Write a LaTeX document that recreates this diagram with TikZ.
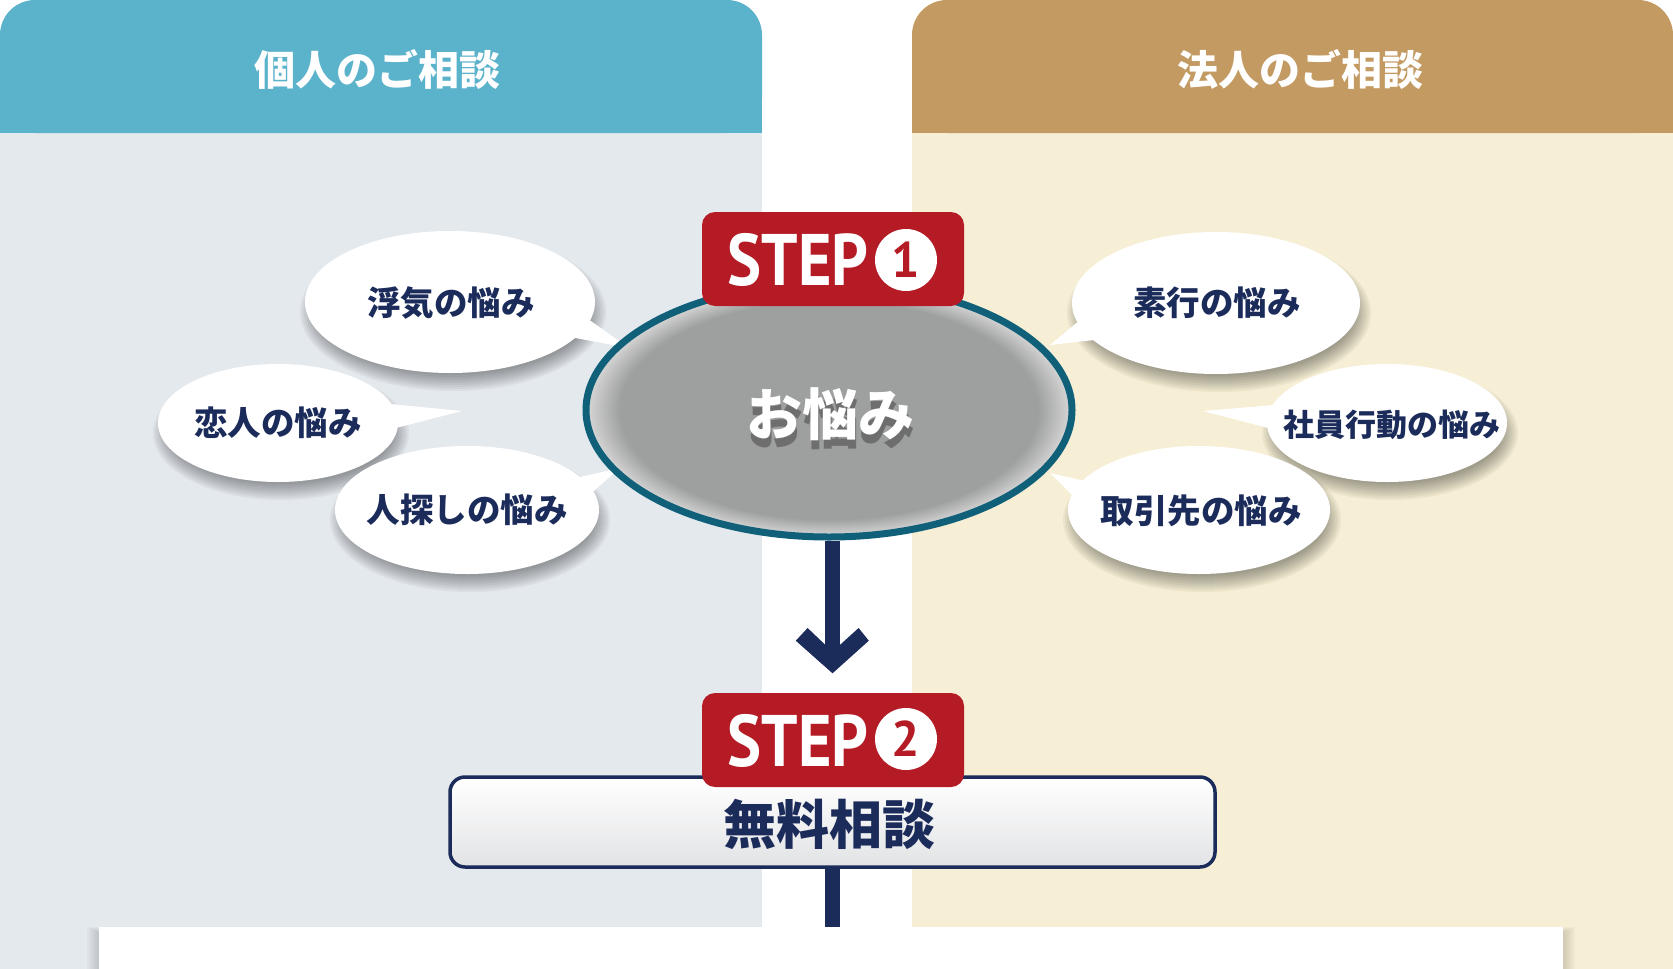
\documentclass[tikz,border=0pt]{standalone}
\usepackage{fontspec}
\newfontfamily\jp{Noto Sans CJK JP}
\newfontfamily\stepf{PT Sans}
\usetikzlibrary{shapes.geometric,calc}
\definecolor{headblue}{HTML}{5BB2CB}
\definecolor{bodyblue}{HTML}{E4E9EE}
\definecolor{headgold}{HTML}{C29A62}
\definecolor{bodygold}{HTML}{F6EFD5}
\definecolor{ringteal}{HTML}{10607A}
\definecolor{ellgray}{HTML}{9E9F9F}
\definecolor{ellglow}{HTML}{D8D8D8}
\definecolor{stepred}{HTML}{B41B24}
\definecolor{navy}{HTML}{1B2B5A}
\definecolor{boxgray}{HTML}{E2E3E5}
\pgfdeclareradialshading{glow}{\pgfpoint{0bp}{0bp}}{color(0bp)=(ellgray); color(21.5bp)=(ellgray); color(25bp)=(ellglow); color(50bp)=(ellglow)}
\newcommand\bubshadow[4]{%
  \foreach \k in {0,...,8}{\fill[black,opacity=0.045] (#1+3,#2+10) ellipse [x radius={#3-8+2*\k}, y radius={#4-8+2*\k}];}}
\begin{document}
\begin{tikzpicture}[x=1pt,y=-1pt,
  headtext/.style={text=white, font={\jp\bfseries\fontsize{41}{41}\selectfont}, inner sep=0},
  bubble/.style={ellipse, fill=white, inner sep=0},
  bubtext/.style={inner sep=0, text=navy, font={\jp\bfseries\fontsize{33.5}{33.5}\selectfont}},
  mainell/.style={ellipse, inner sep=0, draw=ringteal, line width=7pt, shade, shading=glow, minimum width=486, minimum height=254},
  stepbadge/.style={rectangle, rounded corners=13, fill=stepred, minimum width=262, minimum height=94, inner sep=0},
  steptext/.style={text=white, inner sep=0, anchor=base, font={\stepf\bfseries\fontsize{73}{73}\selectfont}},
  stepnum/.style={circle, fill=white, minimum size=62, inner sep=0, text=stepred, font={\stepf\bfseries\fontsize{50}{50}\selectfont}},
  flow/.style={draw=navy, line width=15pt},
  consult/.style={rectangle, rounded corners=15, draw=navy, line width=3.5pt, top color=white, middle color=white, bottom color=boxgray, minimum width=765, minimum height=90, inner sep=0}]
\useasboundingbox (0,0) rectangle (1673,969);
\fill[white] (0,0) rectangle (1673,969);
% panels
\fill[bodyblue] (0,133) rectangle (762,969);
\fill[bodygold] (912,133) rectangle (1673,969);
\fill[headblue, rounded corners=35] (0,0) rectangle (762,133);
\fill[headblue] (0,60) rectangle (762,133);
\fill[headgold, rounded corners=35] (912,0) rectangle (1673,133);
\fill[headgold] (912,60) rectangle (1673,133);
\node[headtext] (h1) at (377,69) {個人のご相談};
\node[headtext] (h2) at (1300,69) {法人のご相談};
% bottom white box with shadow
\foreach \k in {0,...,6}{\fill[black,opacity=0.025] (99-2*\k,933-\k) rectangle (1563+2*\k,975);}
\node[rectangle, fill=white, minimum width=1464, minimum height=60, inner sep=0, anchor=north west] (wb) at (99,927) {};
% left bubbles
\bubshadow{450}{302}{145}{71}
\node[bubble, minimum width=290, minimum height=142] (b1) at (450,302) {};
\fill[white] (570,337) -- (629,348) -- (588,319) -- cycle;
\node[bubtext] (b1t) at (451,303) {浮気の悩み};
\bubshadow{278}{423}{120}{59}
\node[bubble, minimum width=240, minimum height=118] (b2) at (278,423) {};
\fill[white] (390,404) -- (462,411) -- (392,429) -- cycle;
\node[bubtext] (b2t) at (278,423) {恋人の悩み};
\bubshadow{467}{510}{132}{64}
\node[bubble, minimum width=264, minimum height=128] (b3) at (467,510) {};
\fill[white] (575,478) -- (620,468) -- (588,496) -- cycle;
\node[bubtext] (b3t) at (467,510) {人探しの悩み};
% right bubbles
\bubshadow{1216}{303}{144}{71}
\node[bubble, minimum width=288, minimum height=142] (b4) at (1216,303) {};
\fill[white] (1080,320) -- (1050,345) -- (1094,340) -- cycle;
\node[bubtext] (b4t) at (1217,303) {素行の悩み};
\bubshadow{1387}{423}{120}{59}
\node[bubble, minimum width=240, minimum height=118] (b5) at (1387,423) {};
\fill[white] (1274,405) -- (1203,411) -- (1272,429) -- cycle;
\node[bubtext, font={\jp\bfseries\fontsize{31}{31}\selectfont}] (b5t) at (1392,425) {社員行動の悩み};
\bubshadow{1199}{510}{131}{64}
\node[bubble, minimum width=262, minimum height=128] (b6) at (1199,510) {};
\fill[white] (1085,481) -- (1050,473) -- (1074,497) -- cycle;
\node[bubtext] (b6t) at (1201,511) {取引先の悩み};
% central ellipse
\node[mainell] (main) at (829,410) {};
\node[text=black, opacity=0.3, inner sep=0, font={\jp\bfseries\fontsize{56}{56}\selectfont}] (worryshadow) at (831,423) {お悩み};
\node[text=white, inner sep=0, font={\jp\bfseries\fontsize{56}{56}\selectfont}] (worry) at (830,414) {お悩み};
% STEP 1
\node[stepbadge] (s1) at (833,259) {};
\node[steptext] (s1t) at (798,285) {\scalebox{0.88}[1]{STEP}};
\node[stepnum] (n1) at (906,260) {1};
% arrow
\coordinate (a1) at (832,652);
\draw[flow] (main.south -| a1) -- (a1);
\fill[navy] (807.6,628) -- (795.8,640.7) -- (832.5,673.3) -- (868.8,640.7) -- (858.6,628) -- (832.5,651.7) -- cycle;
% consult box
\node[consult] (box) at (832.5,822) {};
\draw[flow] (box.south) -- (wb.north -| box.south);
\node[text=navy, inner sep=0, font={\jp\bfseries\fontsize{53}{53}\selectfont}] (free) at (829,824) {無料相談};
% STEP 2
\node[stepbadge] (s2) at (833,740) {};
\node[steptext] (s2t) at (798,766) {\scalebox{0.88}[1]{STEP}};
\node[stepnum] (n2) at (906,739) {2};
\end{tikzpicture}
\end{document}
